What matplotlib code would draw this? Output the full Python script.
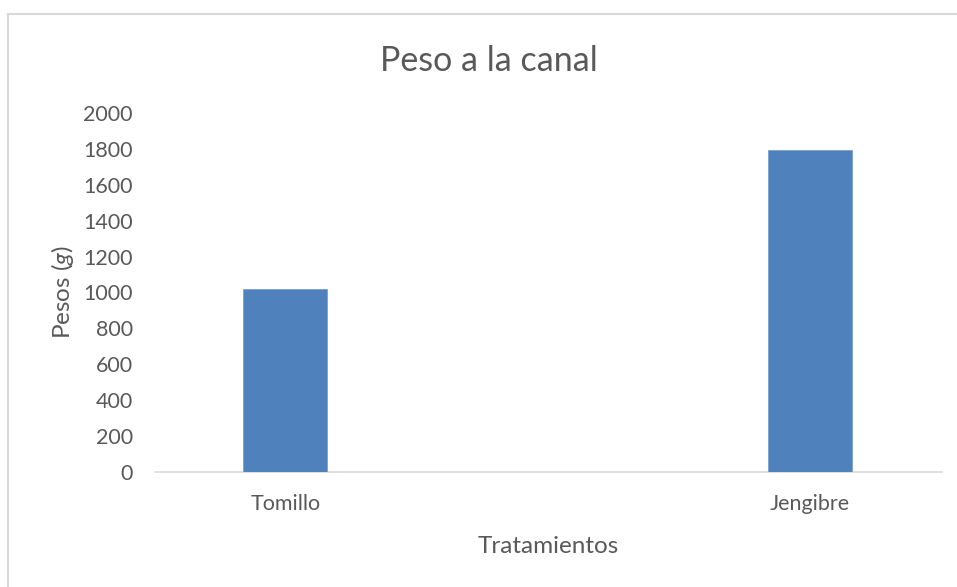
import matplotlib.pyplot as plt
from matplotlib.lines import Line2D

categorias = ["Tomillo", "Jengibre"]
pesos = [1022, 1795]
yticks = [0, 200, 400, 600, 800, 1000, 1200, 1400, 1600, 1800, 2000]

plt.rcParams['font.family'] = ['Lato', 'DejaVu Sans']
plt.rcParams['mathtext.fontset'] = 'custom'
plt.rcParams['mathtext.rm'] = 'Lato'
plt.rcParams['mathtext.it'] = 'Lato:italic'

gris = '#595959'
W, H = 957, 587
fig = plt.figure(figsize=(9.57, 5.87), dpi=100)
ax = fig.add_axes([155 / W, 1 - 472 / H, (942 - 155) / W, (472 - 113) / H])

x = list(range(len(categorias)))
ax.bar(x, pesos, width=0.16, color='#4f81bd', edgecolor='#7a9fd0', linewidth=0.6, zorder=3)

ax.set_xlim(-0.248, 1.251)
ax.set_ylim(0, 2000)
ax.set_yticks(yticks)
ax.set_yticklabels([str(v) for v in yticks], fontsize=15.5, color=gris)
ax.set_xticks(x)
ax.set_xticklabels(categorias, fontsize=15.5, color=gris)
ax.tick_params(axis='both', length=0)
ax.tick_params(axis='y', pad=16)
ax.tick_params(axis='x', pad=15.5)

for s in ['top', 'right', 'left']:
    ax.spines[s].set_visible(False)
ax.spines['bottom'].set_color('#d9d9d9')
ax.spines['bottom'].set_linewidth(1.2)

ax.set_ylabel(r"Pesos ($\mathit{g}$)", fontsize=17.5, color=gris, labelpad=5)
ax.set_xlabel("Tratamientos", fontsize=17.5, color=gris, labelpad=16)

fig.text(489 / W, 1 - 61 / H, "Peso a la canal", ha='center', va='center', fontsize=24.5, color=gris)

# marco del gráfico
fig.add_artist(Line2D([8 / W, 8 / W], [0, 1 - 14 / H], color='#d9d9d9', lw=1.5))
fig.add_artist(Line2D([8 / W, 1], [1 - 14 / H, 1 - 14 / H], color='#d9d9d9', lw=1.5))

fig.savefig('out.png', dpi=100)
